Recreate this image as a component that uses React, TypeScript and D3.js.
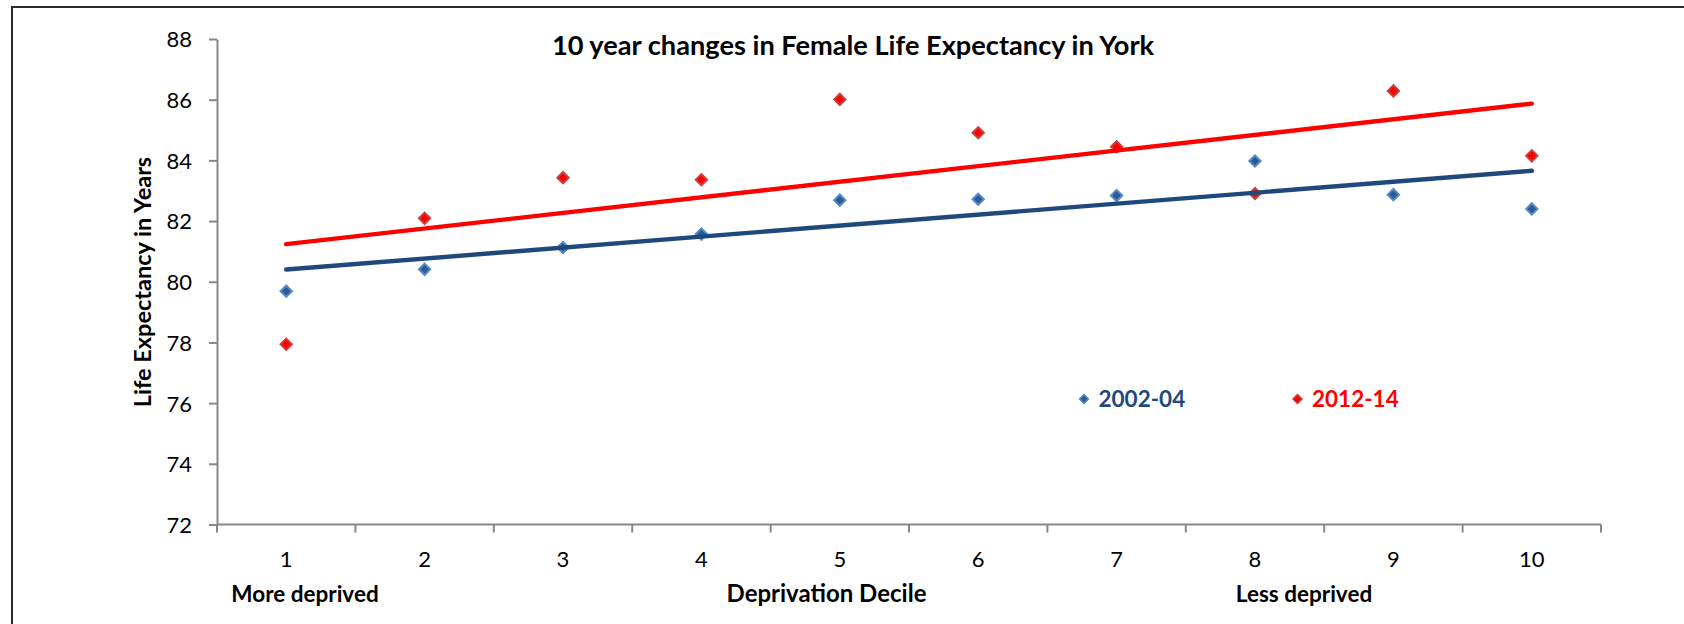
import { useEffect, useRef } from "react";
import * as d3 from "d3";

// deprivation deciles (1 = most deprived)
const deciles = ["1", "2", "3", "4", "5", "6", "7", "8", "9", "10"];
const seriesNames = ["2002-04", "2012-14"];
// female life expectancy in years
const le2002 = [79.69, 80.41, 81.13, 81.57, 82.69, 82.72, 82.84, 83.98, 82.87, 82.4];
const le2012 = [77.94, 82.09, 83.43, 83.36, 86.01, 84.91, 84.45, 82.91, 86.29, 84.15];
const yTicks = [72, 74, 76, 78, 80, 82, 84, 86, 88];

const FONT = "Lato, 'Open Sans', sans-serif";

// least squares fit over x = 1..n, like the Excel linear trendline
function linearFit(values: number[]) {
    const xs = values.map((_, i) => i + 1);
    const mx = d3.mean(xs) as number;
    const my = d3.mean(values) as number;
    const sxy = d3.sum(xs, (x, i) => (x - mx) * (values[i] - my));
    const sxx = d3.sum(xs, (x) => (x - mx) * (x - mx));
    const slope = sxy / sxx;
    return (x: number) => my + slope * (x - mx);
}

export default function App() {
    const svgRef = useRef<SVGSVGElement>(null);
    const width = 1684;
    const height = 624;

    useEffect(() => {
        const svg = d3.select(svgRef.current);
        svg.selectAll("*").remove();

        const left = 217, right = 1601, top = 39, bottom = 524.5;

        const xScale = d3.scaleBand().domain(deciles).range([left, right]).padding(0);
        const yScale = d3.scaleLinear().domain([72, 88]).range([bottom, top]);
        const cx = (d: string) => (xScale(d) as number) + xScale.bandwidth() / 2;

        const series = [
            { name: seriesNames[0], values: le2002, fill: "#2d5a93", stroke: "#5589c8", line: "#1f497d", text: "#1f497d" },
            { name: seriesNames[1], values: le2012, fill: "#ff0000", stroke: "#c9403c", line: "#ff0000", text: "#ff0000" },
        ];

        svg.append("rect")
            .attr("width", width).attr("height", height).attr("fill", "white");

        // chart area border
        svg.append("rect")
            .attr("x", 12).attr("y", 7)
            .attr("width", 1720).attr("height", 700)
            .attr("fill", "none")
            .attr("stroke", "#2b2b2b")
            .attr("stroke-width", 2);

        svg.append("text")
            .attr("x", 853)
            .attr("y", 55)
            .attr("text-anchor", "middle")
            .style("font-family", FONT)
            .style("font-size", "27.2px")
            .style("font-weight", "bold")
            .text("10 year changes in Female Life Expectancy in York");

        // y axis
        const yAxis = d3.axisLeft(yScale).tickValues(yTicks).tickSize(8).tickSizeOuter(0).tickPadding(17);
        const yg = svg.append("g").attr("transform", `translate(${left},0)`).call(yAxis);
        yg.select(".domain").attr("stroke", "#878787").attr("stroke-width", 2);
        yg.selectAll(".tick line").attr("stroke", "#878787").attr("stroke-width", 2);
        yg.selectAll(".tick text")
            .attr("dy", "0.36em")
            .attr("fill", "#000")
            .style("font-family", FONT)
            .style("font-size", "22px");

        // x axis, ticks between categories
        const xg = svg.append("g");
        xg.append("line")
            .attr("x1", left).attr("x2", right)
            .attr("y1", bottom).attr("y2", bottom)
            .attr("stroke", "#878787").attr("stroke-width", 2);
        const boundaries = deciles.map((d) => xScale(d) as number).concat([right]);
        xg.selectAll("line.tick")
            .data(boundaries)
            .enter()
            .append("line")
            .attr("class", "tick")
            .attr("x1", (d) => d).attr("x2", (d) => d)
            .attr("y1", bottom).attr("y2", bottom + 8)
            .attr("stroke", "#878787").attr("stroke-width", 2);
        xg.selectAll("text")
            .data(deciles)
            .enter()
            .append("text")
            .attr("x", (d) => cx(d))
            .attr("y", 567)
            .attr("text-anchor", "middle")
            .style("font-family", FONT)
            .style("font-size", "22px")
            .text((d) => d);

        // markers
        const diamond = d3.symbol(d3.symbolSquare, 64);
        series.forEach((s) => {
            svg.append("g")
                .selectAll("path")
                .data(s.values)
                .enter()
                .append("path")
                .attr("d", diamond)
                .attr("transform", (d, i) => `translate(${cx(deciles[i])},${yScale(d)}) rotate(45)`)
                .attr("fill", s.fill)
                .attr("stroke", s.stroke)
                .attr("stroke-width", 2);
        });

        // linear trendlines
        series.forEach((s) => {
            const fit = linearFit(s.values);
            const line = d3.line<number>()
                .x((x) => cx(deciles[x - 1]))
                .y((x) => yScale(fit(x)));
            svg.append("path")
                .attr("d", line([1, deciles.length]))
                .attr("fill", "none")
                .attr("stroke", s.line)
                .attr("stroke-width", 4.4)
                .attr("stroke-linecap", "round");
        });

        // legend
        const legendX = [1084, 1297.5];
        const legendSymbol = d3.symbol(d3.symbolSquare, 40);
        series.forEach((s, i) => {
            svg.append("path")
                .attr("d", legendSymbol)
                .attr("transform", `translate(${legendX[i]},399) rotate(45)`)
                .attr("fill", s.fill)
                .attr("stroke", s.stroke)
                .attr("stroke-width", 1.5);
            svg.append("text")
                .attr("x", legendX[i] + 14.5)
                .attr("y", 407)
                .attr("fill", s.text)
                .style("font-family", FONT)
                .style("font-size", "22.5px")
                .style("font-weight", "bold")
                .text(s.name);
        });

        // axis titles
        svg.append("text")
            .attr("transform", "translate(151,282) rotate(-90)")
            .attr("text-anchor", "middle")
            .style("font-family", FONT)
            .style("font-size", "23.5px")
            .style("font-weight", "bold")
            .text("Life Expectancy in Years");

        const notes = [
            { x: 305, label: "More deprived", size: 22.5 },
            { x: 826.5, label: "Deprivation Decile", size: 24 },
            { x: 1304, label: "Less deprived", size: 22.5 },
        ];
        svg.append("g")
            .selectAll("text")
            .data(notes)
            .enter()
            .append("text")
            .attr("x", (d) => d.x)
            .attr("y", 602)
            .attr("text-anchor", "middle")
            .style("font-family", FONT)
            .style("font-size", (d) => `${d.size}px`)
            .style("font-weight", "bold")
            .text((d) => d.label);
    }, []);

    return (
        <svg
            ref={svgRef}
            width={width}
            height={height}
            style={{ position: "absolute", left: 0, top: 0, display: "block" }}
        ></svg>
    );
}
